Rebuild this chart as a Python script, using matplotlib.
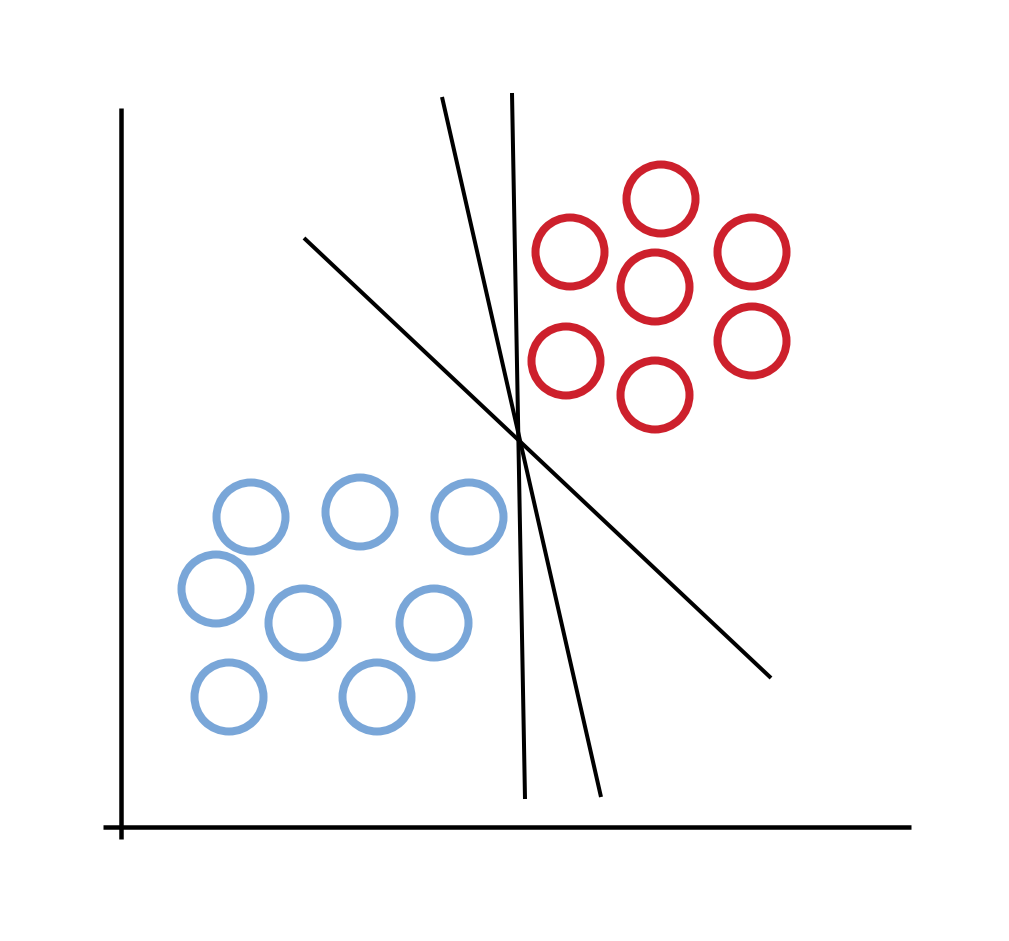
"""Separacao linear de duas classes: varios hiperplanos possiveis."""

import matplotlib

matplotlib.use("Agg")
import matplotlib.pyplot as plt
from matplotlib.patches import Circle

# canvas em pixels (y cresce para baixo)
W, H = 1009, 941

red_x = [661, 570, 752, 655, 566, 752, 655]
red_y = [199, 252, 252, 287, 361, 341, 395]

blue_x = [251, 360, 469, 216, 303, 434, 229, 377]
blue_y = [517, 512, 517, 589, 623, 623, 697, 697]

# retas separadoras: (x0, y0, x1, y1)
sep_lines = [
    (304, 238, 771, 678),
    (442, 97, 601, 797),
    (512, 93, 525, 799),
]

# eixos desenhados a mao
axis_v = (121, 108, 121, 839)
axis_h = (103, 827, 911, 827)

RED = "#cd202c"
BLUE = "#79a6d8"
RADIUS = 34.5
RING_PX = 8


def px2pt(px: float) -> float:
    return px * 72 / 100


fig = plt.figure(figsize=(W / 100, H / 100), dpi=100)
ax = fig.add_axes([0, 0, 1, 1])
ax.set_xlim(0, W)
ax.set_ylim(H, 0)
ax.set_aspect("equal")
ax.axis("off")

for x0, y0, x1, y1 in (axis_v, axis_h):
    ax.plot([x0, x1], [y0, y1], color="black", lw=px2pt(4.5),
            solid_capstyle="butt")

for x0, y0, x1, y1 in sep_lines:
    ax.plot([x0, x1], [y0, y1], color="black", lw=px2pt(4),
            solid_capstyle="butt")

for xs, ys, cor in ((red_x, red_y, RED), (blue_x, blue_y, BLUE)):
    for cx, cy in zip(xs, ys):
        ax.add_patch(Circle((cx, cy), RADIUS, fill=False, edgecolor=cor,
                            lw=px2pt(RING_PX)))

fig.savefig("out.png", dpi=100, facecolor="white")
